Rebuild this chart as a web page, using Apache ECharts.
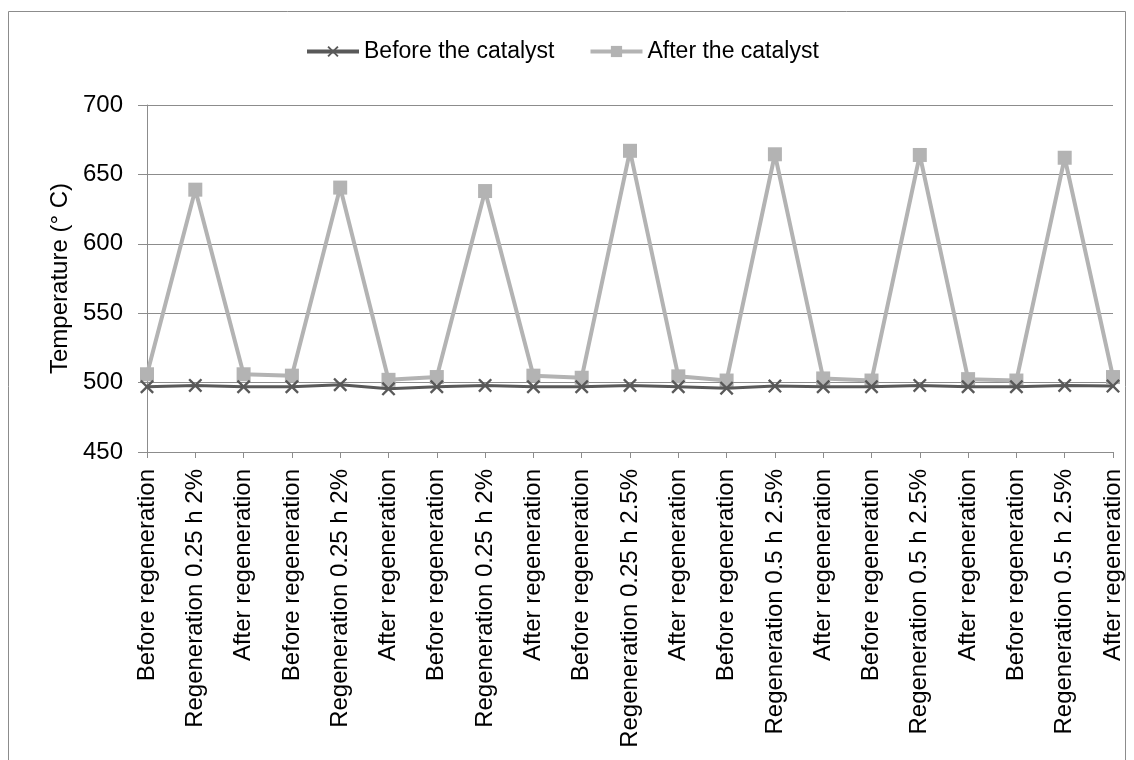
<!DOCTYPE html>
<html>
<head>
<meta charset="utf-8">
<script src="https://cdn.jsdelivr.net/npm/echarts@6/dist/echarts.min.js"></script>
<style>html,body{margin:0;padding:0;background:#fff}#c{width:1134px;height:760px}</style>
</head>
<body>
<div id="c"></div>
<script>
const categories = [
  "Before regeneration","Regeneration 0.25 h 2%","After regeneration",
  "Before regeneration","Regeneration 0.25 h 2%","After regeneration",
  "Before regeneration","Regeneration 0.25 h 2%","After regeneration",
  "Before regeneration","Regeneration 0.25 h 2.5%","After regeneration",
  "Before regeneration","Regeneration 0.5 h 2.5%","After regeneration",
  "Before regeneration","Regeneration 0.5 h 2.5%","After regeneration",
  "Before regeneration","Regeneration 0.5 h 2.5%","After regeneration"
];
const beforeCatalyst = [497,498,497,497,498.5,495.5,497,498,497,497,498,497,496,497.5,497,497,498,497,497,498,497.5];
const afterCatalyst  = [506,639,506,505,640.5,502,504,638,505,503.5,667,504.5,501.5,664.5,503,501.5,664,502.5,501.5,662,504];
const seriesNames = ["Before the catalyst","After the catalyst"];
const yTitle = "Temperature (° C)";

const FONT = '"Liberation Sans Narrow","Arial Narrow","Liberation Sans",sans-serif';
const chart = echarts.init(document.getElementById('c'), null, {renderer:'canvas'});
const xPath = 'path://M0,1.2L1.2,0L5,3.8L8.8,0L10,1.2L6.2,5L10,8.8L8.8,10L5,6.2L1.2,10L0,8.8L3.8,5Z';
chart.setOption({
  animation:false,
  backgroundColor:'#fff',
  graphic:[{type:'rect',shape:{x:8.5,y:11.5,width:1117,height:760},style:{fill:'none',stroke:'#8c8c8c',lineWidth:1},silent:true,z:-10}],
  legend:{
    top:35, left:300, itemGap:34, itemWidth:52, itemHeight:14,
    textStyle:{fontFamily:FONT,fontSize:23,color:'#000'},
    data:[
      {name:seriesNames[0],lineStyle:{width:4}},
      {name:seriesNames[1],lineStyle:{width:4}}
    ]
  },
  grid:{left:147,right:21,top:105,bottom:308,containLabel:false},
  xAxis:{
    type:'category', data:categories, boundaryGap:false,
    axisLine:{lineStyle:{color:'#8c8c8c',width:1}},
    axisTick:{show:true,alignWithLabel:true,length:6,lineStyle:{color:'#8c8c8c'}},
    axisLabel:{rotate:90,interval:0,fontFamily:FONT,fontSize:24,color:'#000',margin:17},
    splitLine:{show:false}
  },
  yAxis:{
    type:'value', min:450, max:700, interval:50,
    name:yTitle, nameLocation:'middle', nameGap:75, nameRotate:90,
    nameTextStyle:{fontFamily:FONT,fontSize:24,color:'#000'},
    axisLine:{show:true,lineStyle:{color:'#8c8c8c'}},
    axisTick:{show:true,length:9,lineStyle:{color:'#8c8c8c'}},
    axisLabel:{fontFamily:FONT,fontSize:24,color:'#000',margin:24},
    splitLine:{show:true,lineStyle:{color:'#8c8c8c',width:1}}
  },
  series:[
    {name:seriesNames[0],type:'line',data:beforeCatalyst,symbol:xPath,symbolSize:14,
     lineStyle:{color:'#595959',width:3},itemStyle:{color:'#595959'},z:3},
    {name:seriesNames[1],type:'line',data:afterCatalyst,symbol:'rect',symbolSize:14,
     lineStyle:{color:'#b3b3b3',width:4},itemStyle:{color:'#b3b3b3'},z:2}
  ]
});
</script>
</body>
</html>
